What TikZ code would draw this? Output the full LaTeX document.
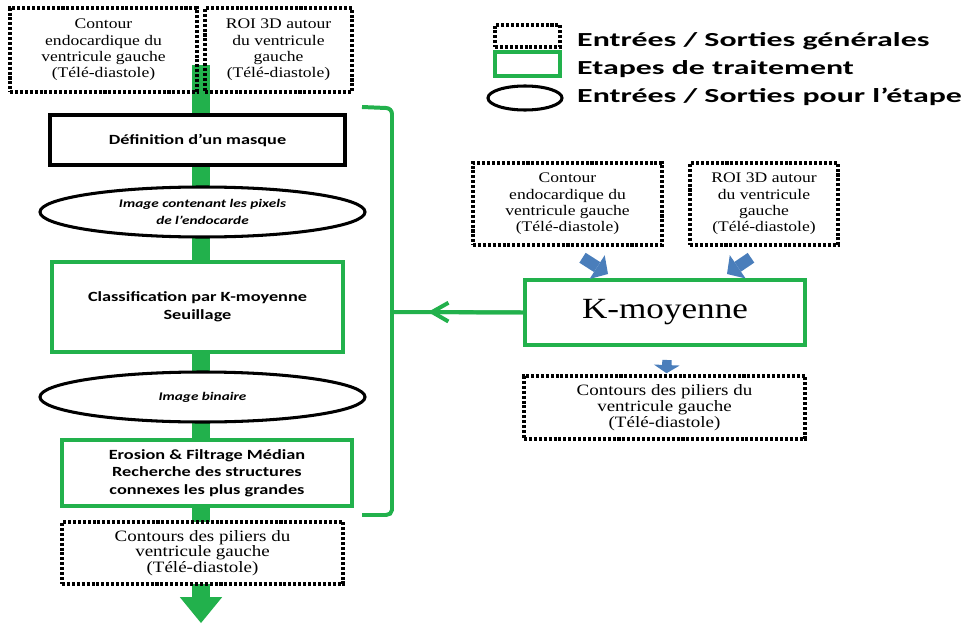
\documentclass[tikz,border=0pt]{standalone}
\usepackage{fontspec}
\setmainfont[FakeStretch=1.2]{Liberation Serif}
\newfontfamily\calib[FakeStretch=1.3]{Carlito}
\newfontfamily\legfont[FakeStretch=1.6]{Carlito}
\usetikzlibrary{arrows.meta,shapes.geometric,calc}
\definecolor{vert}{RGB}{34,177,76}
\definecolor{bleu}{RGB}{74,126,187}

\begin{document}
\begin{tikzpicture}[x=0.3mm,y=-0.3mm,
  es/.style={draw,line width=3pt,dash pattern=on 2.6pt off 1.6pt,align=center,inner sep=0pt,font=\fontsize{12.5}{14}\selectfont},
  etape/.style={draw=vert,line width=3.4pt,fill=white,align=center,inner sep=0pt,font=\calib\bfseries\fontsize{12}{15}\selectfont},
  esetape/.style={ellipse,draw,line width=2.6pt,fill=white,align=center,inner sep=0pt,font=\calib\bfseries\itshape\fontsize{10}{14}\selectfont},
  vline/.style={vert,line width=3.4pt},
  bleuarr/.style={bleu,line width=10pt,-{Triangle[length=11pt,width=24pt,line width=0pt]}},
  legtxt/.style={anchor=base west,inner sep=0pt,font=\legfont\bfseries\fontsize{17}{17}\selectfont}]
\useasboundingbox (0,0) rectangle (966,623);

% tronc principal
\coordinate (tronc) at (201,65);
\coordinate (fin) at (201,623);
\draw[vert,line width=15.3pt,-{Triangle[length=22pt,width=36pt,line width=0pt]}] (tronc) -- (fin);

% entrees
\node[es,minimum width=56.1mm,minimum height=25.2mm] (in1) at (103.5,50) {Contour\\endocardique du\\ventricule gauche\\(Télé-diastole)};
\node[es,minimum width=44.1mm,minimum height=25.2mm] (in2) at (278.5,50) {ROI 3D autour\\du ventricule\\gauche\\(Télé-diastole)};

% etapes
\node[etape,draw=black,minimum width=88.5mm,minimum height=15mm] (masque) at (197.5,140) {Définition d’un masque};
\node[esetape,minimum width=97.5mm,minimum height=15mm] (img1) at (202.5,212) {Image contenant les pixels\\de l’endocarde};
\node[etape,minimum width=87.3mm,minimum height=27mm] (classif) at (197.5,307) {Classification par K-moyenne\\Seuillage};
\node[esetape,minimum width=97.5mm,minimum height=15mm] (img2) at (202.5,397) {Image binaire};
\node[etape,minimum width=87mm,minimum height=19.8mm] (erosion) at (207,473) {Erosion \& Filtrage Médian\\Recherche des structures\\connexes les plus grandes};
\node[es,fill=white,minimum width=84.3mm,minimum height=18.6mm,font=\fontsize{13.5}{13}\selectfont] (out1) at (202.5,553) {Contours des piliers du\\ventricule gauche\\(Télé-diastole)};

% accolade
\coordinate (brtop) at (362,107);
\coordinate (brbot) at (362,515);
\coordinate (brmid) at (392,312);
\coordinate (pointe) at (428,312);
\draw[vline] (brtop) -- (386,108) to[out=0,in=90] (392,114) -- (brmid) -- (392,510) to[out=-90,in=0] (386,515) -- (brbot);

% detail K-moyenne
\node[es,minimum width=56.7mm,minimum height=24.6mm] (r1) at (567.5,204) {Contour\\endocardique du\\ventricule gauche\\(Télé-diastole)};
\node[es,minimum width=44.4mm,minimum height=24.6mm] (r2) at (764,204) {ROI 3D autour\\du ventricule\\gauche\\(Télé-diastole)};
\node[etape,minimum width=84mm,minimum height=19.5mm,font=\fontsize{25}{30}\selectfont] (km) at (665,312.5) {K-moyenne};
\node[es,minimum width=84.3mm,minimum height=18.9mm,font=\fontsize{13.5}{13.5}\selectfont] (r3) at (664.5,407.5) {Contours des piliers du\\ventricule gauche\\(Télé-diastole)};

\draw[vline] (km.west) -- (brmid);
\draw[vline,-{Straight Barb[length=14pt,width=16pt]}] (km.west) -- (pointe);
\draw[bleuarr] ($(r1.south)+(15,11)$) -- ($(km.north)+(-57,-4)$);
\draw[bleuarr] ($(r2.south)+(-13,11)$) -- ($(km.north)+(62,-4)$);
\draw[bleuarr,line width=8pt,-{Triangle[length=7pt,width=22pt,line width=0pt]}] ($(km.south)+(2,13)$) -- ($(r3.north)+(2,-1)$);

% legende
\node[es,minimum width=19.5mm,minimum height=6.6mm] (lg1) at (527.5,36) {};
\node[etape,minimum width=19.5mm,minimum height=7.2mm] (lg2) at (527.5,64) {};
\node[esetape,minimum width=22.2mm,minimum height=7.2mm] (lg3) at (525,98) {};
\node[legtxt] (lt1) at (577,47) {Entrées / Sorties générales};
\node[legtxt] (lt2) at (577,75) {Etapes de traitement};
\node[legtxt] (lt3) at (577,103) {Entrées / Sorties pour l’étape};
\end{tikzpicture}
\end{document}
